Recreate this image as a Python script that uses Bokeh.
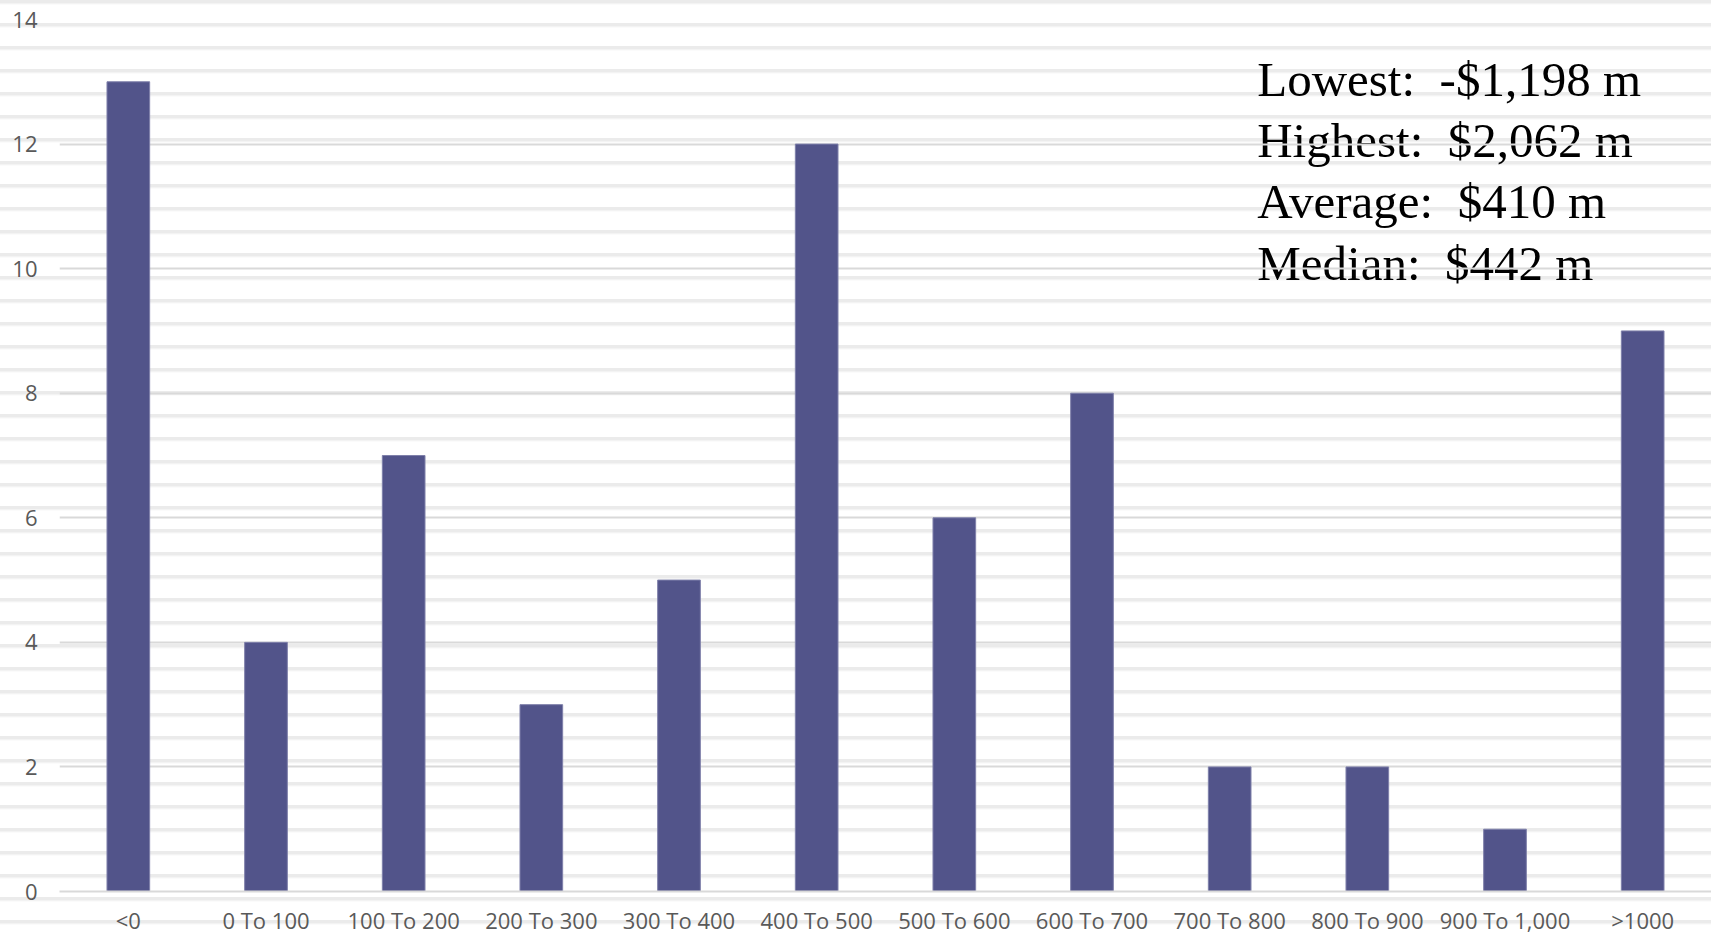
from bokeh.plotting import figure
from bokeh.models import ColumnDataSource, FactorRange, Range1d, FixedTicker
from bokeh.embed import file_html
from bokeh.resources import INLINE
from bokeh.core.properties import value

categories = ["<0", "0 To 100", "100 To 200", "200 To 300", "300 To 400", "400 To 500",
              "500 To 600", "600 To 700", "700 To 800", "800 To 900", "900 To 1,000", ">1000"]
counts = [13, 4, 7, 3, 5, 12, 6, 8, 2, 2, 1, 9]
y_ticks = [0, 2, 4, 6, 8, 10, 12, 14]
stats_lines = ["Lowest:\u00a0 -$1,198 m", "Highest:\u00a0 $2,062 m",
               "Average:\u00a0 $410 m", "Median:\u00a0 $442 m"]
stats_y = [13.04, 12.05, 11.07, 10.085]
stats_x = [8.7, 8.7, 8.7, 8.7]

src = ColumnDataSource(dict(cat=categories, count=counts))
txt = ColumnDataSource(dict(x=stats_x, y=stats_y, t=stats_lines))

p = figure(width=1711, height=938,
           x_range=FactorRange(factors=categories, range_padding=0),
           y_range=Range1d(0, 14),
           output_backend="svg", toolbar_location=None,
           min_border_left=59, min_border_right=0, min_border_top=19, min_border_bottom=47)

p.styles = {"background": "repeating-linear-gradient(to bottom, #ebebeb 0px, #ebebeb 2.5px, #ffffff 5px, #ffffff 23px)"}
p.border_fill_alpha = 0
p.background_fill_alpha = 0
p.outline_line_color = None

p.text(x="x", y="y", text="t", source=txt, text_font=value("Liberation Serif"),
       text_font_size="49px", text_color="#000000", text_baseline="alphabetic",
       text_align="left", level="image")

p.vbar(x="cat", top="count", width=0.31, source=src,
       fill_color="#52548a", line_color="#7f80aa", line_width=1)

p.xgrid.grid_line_color = None
p.ygrid.grid_line_color = "#d9d9d9"
p.ygrid.grid_line_width = 2
p.yaxis.ticker = FixedTicker(ticks=y_ticks)

for ax in (p.xaxis, p.yaxis):
    ax.major_tick_out = 0
    ax.major_tick_in = 0
    ax.minor_tick_out = 0
    ax.minor_tick_in = 0
    ax.major_label_text_font = "Open Sans"
    ax.major_label_text_font_size = "22px"
    ax.major_label_text_color = "#595959"

p.yaxis.axis_line_color = None
p.yaxis.major_label_standoff = 22
p.xaxis.axis_line_color = "#d9d9d9"
p.xaxis.axis_line_width = 2
p.xaxis.major_label_standoff = 13

open("out.html", "w").write(file_html(p, INLINE))
